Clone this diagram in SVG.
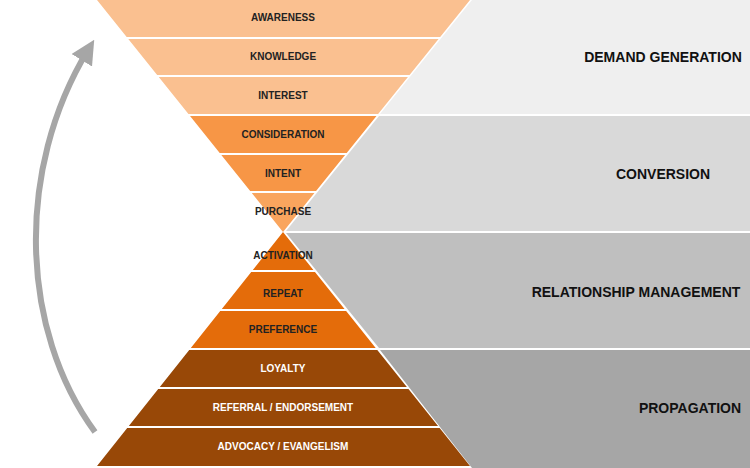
<svg xmlns="http://www.w3.org/2000/svg" width="750" height="468" viewBox="0 0 750 468">
<style>
.t{font-family:"Liberation Sans",Arial,sans-serif;font-weight:bold;font-size:10px;text-anchor:middle;fill:#222}
.w{fill:#fff}
.h{font-family:"Liberation Sans",Arial,sans-serif;font-weight:bold;font-size:14px;text-anchor:middle;fill:#111}
</style>
<defs>
<clipPath id="tri"><polygon points="97,0 470,0 283,232 470,466 97,466 283,232"/></clipPath>
<marker id="ah" viewBox="0 0 10 10" refX="5" refY="5" markerWidth="4" markerHeight="4" orient="auto"><path d="M0,0L10,5L0,10z" fill="#a6a6a6"/></marker>
</defs>
<rect width="750" height="468" fill="#fff"/>
<g id="bands">
<polygon points="472,0 750,0 750,114 380,114" fill="#efefef"/>
<polygon points="379,116 750,116 750,231 286,231" fill="#d9d9d9"/>
<polygon points="286,233 750,233 750,348 379,348" fill="#bfbfbf"/>
<polygon points="380,350 750,350 750,468 472,468" fill="#a6a6a6"/>
</g>
<g id="funnel" clip-path="url(#tri)">
<rect x="0" y="0" width="750" height="37" fill="#fac090"/>
<rect x="0" y="39" width="750" height="36" fill="#fac090"/>
<rect x="0" y="77" width="750" height="37" fill="#fac090"/>
<rect x="0" y="116" width="750" height="37" fill="#f79646"/>
<rect x="0" y="155" width="750" height="36" fill="#f79646"/>
<rect x="0" y="193" width="750" height="39" fill="#f9a55e"/>
<rect x="0" y="232" width="750" height="38" fill="#e46c0a"/>
<rect x="0" y="272" width="750" height="37" fill="#e46c0a"/>
<rect x="0" y="311" width="750" height="37" fill="#e46c0a"/>
<rect x="0" y="350" width="750" height="37" fill="#984807"/>
<rect x="0" y="389" width="750" height="37" fill="#984807"/>
<rect x="0" y="428" width="750" height="40" fill="#984807"/>
</g>
<g id="labels">
<text class="t" x="283" y="21">AWARENESS</text>
<text class="t" x="283" y="60">KNOWLEDGE</text>
<text class="t" x="283" y="99">INTEREST</text>
<text class="t" x="283" y="138">CONSIDERATION</text>
<text class="t" x="283" y="177">INTENT</text>
<text class="t" x="283" y="215">PURCHASE</text>
<text class="t" x="283" y="259">ACTIVATION</text>
<text class="t" x="283" y="297">REPEAT</text>
<text class="t" x="283" y="333">PREFERENCE</text>
<text class="t w" x="283" y="372">LOYALTY</text>
<text class="t w" x="283" y="411">REFERRAL / ENDORSEMENT</text>
<text class="t w" x="283" y="450">ADVOCACY / EVANGELISM</text>
<text class="h" x="663" y="62">DEMAND GENERATION</text>
<text class="h" x="663" y="179">CONVERSION</text>
<text class="h" x="636" y="297">RELATIONSHIP MANAGEMENT</text>
<text class="h" x="690" y="413">PROPAGATION</text>
</g>
<g id="connectors">
<path d="M95,432 C20,330 15,170 88,50" fill="none" stroke="#a6a6a6" stroke-width="6" marker-end="url(#ah)"/>
</g>
</svg>
